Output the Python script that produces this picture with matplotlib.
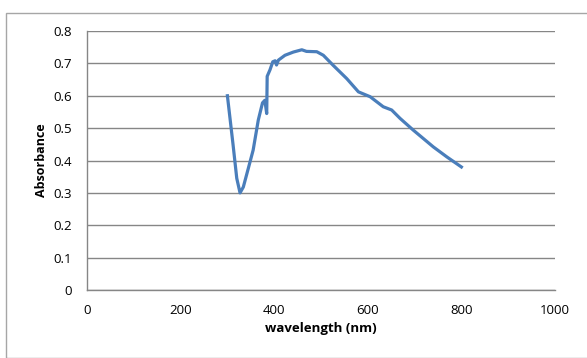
import matplotlib.pyplot as plt
from matplotlib.patches import Rectangle

# absorbance spectrum
wavelength = [300, 312, 320, 327, 334, 344, 355, 366, 375, 380, 384, 385, 391, 397,
              402, 405, 409, 423, 441, 459, 469, 491, 505, 526, 555, 580, 605, 633,
              651, 669, 697, 740, 769, 800]
absorbance = [0.600, 0.450, 0.345, 0.300, 0.318, 0.372, 0.432, 0.525, 0.578, 0.586,
              0.545, 0.660, 0.680, 0.705, 0.708, 0.695, 0.710, 0.725, 0.735, 0.742,
              0.737, 0.736, 0.725, 0.694, 0.653, 0.612, 0.597, 0.566, 0.556, 0.530,
              0.494, 0.442, 0.411, 0.380]

W, H = 587, 358
fig = plt.figure(figsize=(W / 100, H / 100), dpi=100)
plt.rcParams['font.family'] = ['Open Sans', 'DejaVu Sans']

# chart area border (only top and left visible in the reference)
fig.patches.append(Rectangle((6 / W, 0), 1.0, 1 - 13 / H, transform=fig.transFigure,
                             fill=False, edgecolor='#a6a6a6', linewidth=1.0))

ax = fig.add_axes([87 / W, (H - 290) / H, (555 - 87) / W, (290 - 31) / H])
ax.plot(wavelength, absorbance, color='#4a7ebb', linewidth=2.3)

ax.set_xlim(0, 1000)
ax.set_ylim(0, 0.8)
ax.set_xticks([0, 200, 400, 600, 800, 1000])
ax.set_yticks([0, 0.1, 0.2, 0.3, 0.4, 0.5, 0.6, 0.7, 0.8])
ax.set_yticklabels(['0', '0.1', '0.2', '0.3', '0.4', '0.5', '0.6', '0.7', '0.8'])
ax.tick_params(length=0, labelsize=9.5)
ax.tick_params(axis='x', pad=10)
ax.tick_params(axis='y', pad=11)

ax.grid(axis='y', color='#868686', linewidth=1.0)
ax.set_axisbelow(True)
for side in ['top', 'right']:
    ax.spines[side].set_visible(False)
for side in ['left', 'bottom']:
    ax.spines[side].set_color('#868686')
    ax.spines[side].set_linewidth(1.0)

ax.set_xlabel('wavelength (nm)', fontsize=9.5, fontweight='bold', labelpad=4)
ax.set_ylabel('Absorbance', fontsize=9, fontweight='bold', labelpad=4)

fig.savefig('out.png', dpi=100)
